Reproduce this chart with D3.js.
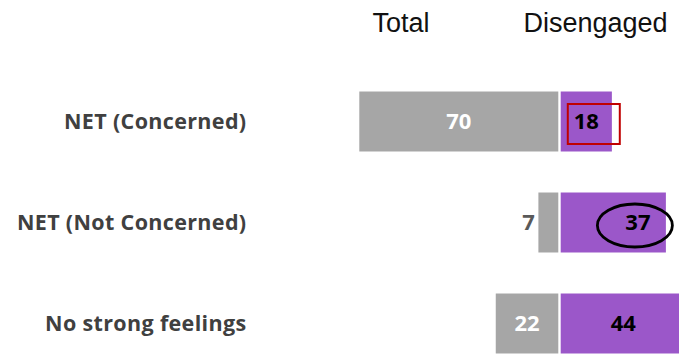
<!DOCTYPE html>
<html>
<head>
<meta charset="utf-8">
<script src="https://cdn.jsdelivr.net/npm/d3@7"></script>
<style>
  html, body { margin: 0; padding: 0; background: #ffffff; }
  svg { display: block; }
</style>
</head>
<body>
<div id="chart"></div>
<script>
// Row categories, top to bottom
const categories = ["NET (Concerned)", "NET (Not Concerned)", "No strong feelings"];
// Column headers
const columns = ["Total", "Disengaged"];
// Series values (%)
const totalValues = [70, 7, 22];
const disengagedValues = [18, 37, 44];

const width = 679, height = 356;
const grayColor = "#a6a6a6";
const purpleColor = "#9b57c9";

const svg = d3.select("#chart").append("svg")
  .attr("width", width)
  .attr("height", height);

// Row bands
const y = d3.scaleBand()
  .domain(categories)
  .range([71, 374])
  .paddingInner(0.406)
  .paddingOuter(0.203);

// Total bars grow leftwards from a shared baseline, Disengaged bars rightwards
const totalZero = 558.3;
const disZero = 560.7;
const pxPerUnit = 199 / 70;
const xTotal = d3.scaleLinear().domain([0, 70]).range([totalZero, totalZero - 70 * pxPerUnit]);
const xDis = d3.scaleLinear().domain([0, 70]).range([disZero, disZero + 70 * pxPerUnit]);

const totalRows = categories.map((c, i) => ({ cat: c, value: totalValues[i] }));
const disRows = categories.map((c, i) => ({ cat: c, value: disengagedValues[i] }));

// Column headers
svg.selectAll("text.header")
  .data(columns)
  .join("text")
  .attr("class", "header")
  .attr("x", (d, i) => i === 0 ? 401 : 595.5)
  .attr("y", 32)
  .attr("text-anchor", "middle")
  .attr("font-family", "'Liberation Sans', Arial, sans-serif")
  .attr("font-size", 27)
  .attr("fill", "#111111")
  .text(d => d);

// Category labels
svg.selectAll("text.cat")
  .data(categories)
  .join("text")
  .attr("class", "cat")
  .attr("x", 246.5)
  .attr("y", d => y(d) + y.bandwidth() / 2)
  .attr("dy", "0.33em")
  .attr("text-anchor", "end")
  .attr("font-family", "'Open Sans', sans-serif")
  .attr("font-weight", 700)
  .attr("font-size", 21.5)
  .attr("letter-spacing", 0.35)
  .attr("fill", "#404040")
  .text(d => d);

// Total bars
svg.selectAll("rect.total")
  .data(totalRows)
  .join("rect")
  .attr("class", "total")
  .attr("x", d => xTotal(d.value))
  .attr("y", d => y(d.cat))
  .attr("width", d => xTotal(0) - xTotal(d.value))
  .attr("height", y.bandwidth())
  .attr("fill", grayColor);

// Disengaged bars
svg.selectAll("rect.dis")
  .data(disRows)
  .join("rect")
  .attr("class", "dis")
  .attr("x", xDis(0))
  .attr("y", d => y(d.cat))
  .attr("width", d => xDis(d.value) - xDis(0))
  .attr("height", y.bandwidth())
  .attr("fill", purpleColor);

const valueFont = sel => sel
  .attr("font-family", "'Open Sans', sans-serif")
  .attr("font-weight", 700)
  .attr("font-size", 22)
  .attr("dy", "0.36em");

// Total value labels: inside the bar when it is wide enough, otherwise just outside
svg.selectAll("text.totalVal")
  .data(totalRows)
  .join("text")
  .attr("class", "totalVal")
  .each(function(d) {
    const w = xTotal(0) - xTotal(d.value);
    const inside = w > 40;
    d3.select(this)
      .attr("x", inside ? (xTotal(d.value) + xTotal(0)) / 2 : xTotal(d.value) - 3.5)
      .attr("text-anchor", inside ? "middle" : "end")
      .attr("fill", inside ? "#ffffff" : "#595959");
  })
  .attr("y", d => y(d.cat) + y.bandwidth() / 2)
  .call(valueFont)
  .text(d => d.value);

// Highlight marks around selected Disengaged values
const ellipseRow = "NET (Not Concerned)";
const boxRow = "NET (Concerned)";
const ellipseCx = d => xDis(d.value) - 31;

svg.selectAll("text.disVal")
  .data(disRows)
  .join("text")
  .attr("class", "disVal")
  .attr("x", d => d.cat === ellipseRow ? ellipseCx(d) + 3 : (xDis(0) + xDis(d.value)) / 2)
  .attr("y", d => y(d.cat) + y.bandwidth() / 2)
  .attr("text-anchor", "middle")
  .attr("fill", "#000000")
  .call(valueFont)
  .text(d => d.value);

const boxD = disRows.find(d => d.cat === boxRow);
const boxCx = (xDis(0) + xDis(boxD.value)) / 2 + 7.5;
svg.append("rect")
  .attr("x", boxCx - 26)
  .attr("y", y(boxRow) + y.bandwidth() / 2 - 17.5)
  .attr("width", 52)
  .attr("height", 40)
  .attr("fill", "none")
  .attr("stroke", "#c00000")
  .attr("stroke-width", 2);

const ellD = disRows.find(d => d.cat === ellipseRow);
svg.append("ellipse")
  .attr("cx", ellipseCx(ellD))
  .attr("cy", y(ellipseRow) + y.bandwidth() / 2 + 3)
  .attr("rx", 37.5)
  .attr("ry", 21.5)
  .attr("fill", "none")
  .attr("stroke", "#000000")
  .attr("stroke-width", 2.8);
</script>
</body>
</html>
